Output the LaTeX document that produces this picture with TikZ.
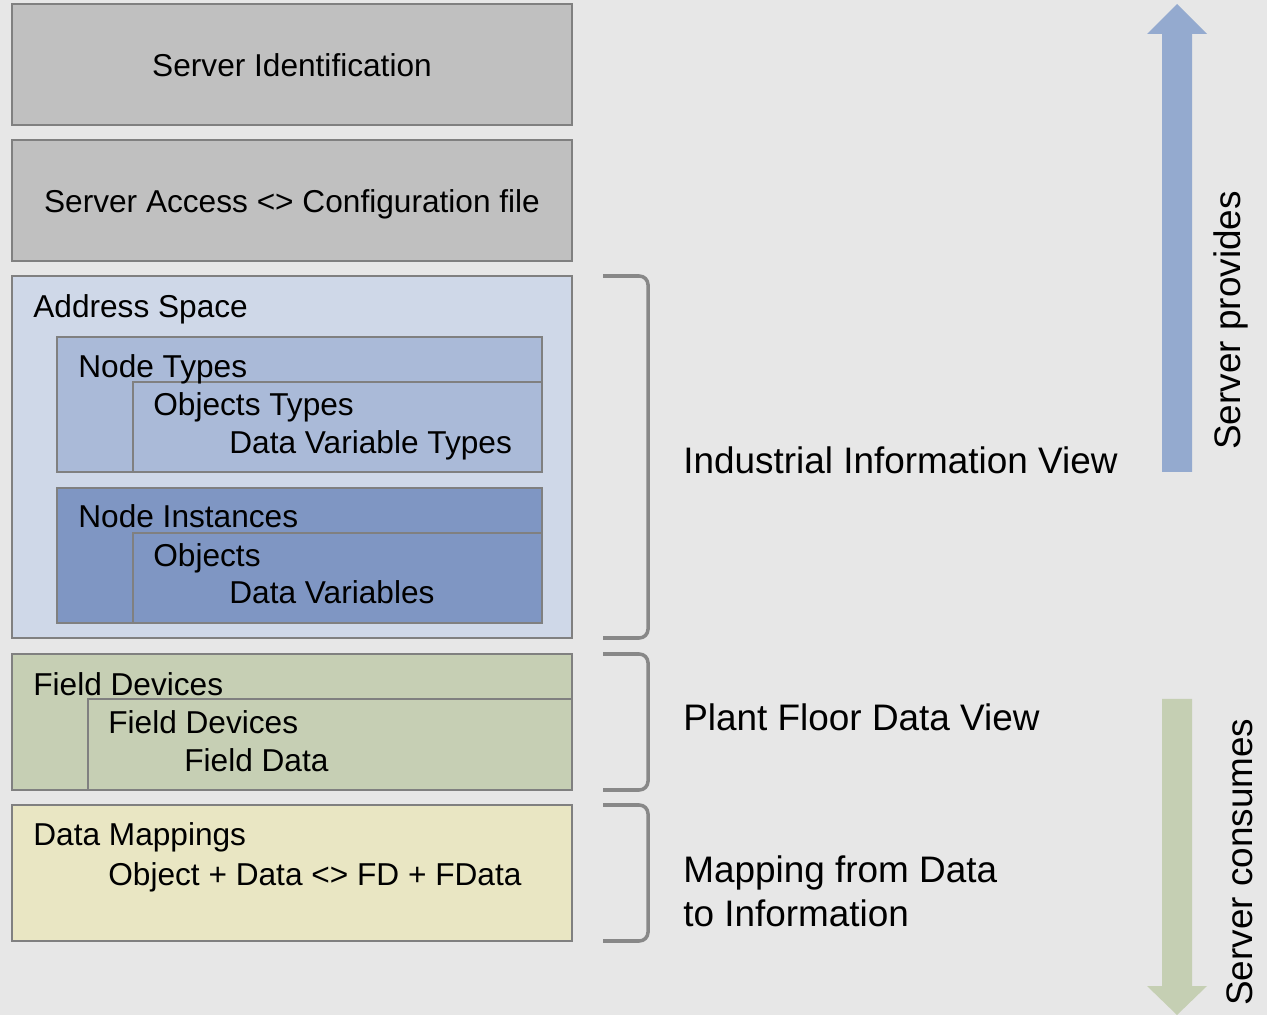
\documentclass[tikz,border=0pt]{standalone}
\usepackage{fontspec}
\setmainfont{Liberation Sans}
\usetikzlibrary{calc}
\definecolor{canvas}{HTML}{E7E7E7}
\definecolor{boxline}{HTML}{808080}
\definecolor{servergray}{HTML}{C0C0C0}
\definecolor{addressfill}{HTML}{CFD8E8}
\definecolor{typesfill}{HTML}{AABAD8}
\definecolor{instancesfill}{HTML}{7F96C3}
\definecolor{fieldfill}{HTML}{C6CFB4}
\definecolor{mappingfill}{HTML}{E9E6C3}
\definecolor{bracketgray}{HTML}{888888}
\definecolor{provideblue}{HTML}{94AACF}
\definecolor{consumegreen}{HTML}{C5CFB3}
\tikzset{
    layer map/.style = {x=0.2mm, y=-0.2mm},
    box/.style       = {draw=boxline, line width=1.1pt, anchor=north west,
                        inner sep=0pt, outer sep=0pt},
    wide/.style      = {box, minimum width=11.2cm},
    boxtext/.style   = {anchor=base west, inner sep=0pt,
                        font=\fontsize{18}{21.6}\selectfont},
    viewtext/.style  = {boxtext, font=\fontsize{21}{25}\selectfont},
    bracket/.style   = {draw=bracketgray, line width=2pt,
                        rounded corners=5pt}
}

\begin{document}
\begin{tikzpicture}[layer map]

\path[use as bounding box, fill=canvas] (0,0) rectangle (1267,1015);

% Server layers at the top.
\node[wide, fill=servergray, minimum height=2.42cm] (ident) at (12,4) {};
\node[wide, fill=servergray, minimum height=2.42cm] (access) at (12,140) {};
\node[boxtext, anchor=base] (ident-text) at (292,77) {Server Identification};
\node[boxtext, anchor=base] (access-text) at (292,213) {Server Access <> Configuration file};

% Address space with nested type and instance boxes.
\node[wide, fill=addressfill, minimum height=7.24cm] (address) at (12,276) {};
\node[box, fill=typesfill, minimum width=9.7cm, minimum height=2.7cm] (types) at (57,337) {};
\node[box, fill=typesfill, minimum width=8.18cm, minimum height=1.8cm] (objtypes) at (133,382) {};
\node[box, fill=instancesfill, minimum width=9.7cm, minimum height=2.7cm] (instances) at (57,488) {};
\node[box, fill=instancesfill, minimum width=8.18cm, minimum height=1.8cm] (objects) at (133,533) {};

% Plant floor and mapping layers.
\node[wide, fill=fieldfill, minimum height=2.72cm] (devices) at (12,654) {};
\node[box, fill=fieldfill, minimum width=9.68cm, minimum height=1.82cm] (subdevices) at (88,699) {};
\node[wide, fill=mappingfill, minimum height=2.72cm] (mappings) at (12,805) {};

\foreach \name/\x/\y/\words in {
    address/33/318/Address Space,
    types/78/378/Node Types,
    objtypes/153/416/Objects Types,
    vartypes/229/454/Data Variable Types,
    instances/78/528/Node Instances,
    objects/153/567/Objects,
    variables/229/604/Data Variables,
    devices/33/695/Field Devices,
    subdevices/108/733/Field Devices,
    fielddata/184/771/Field Data,
    mappings/33/845/Data Mappings,
    mapdata/108/885/Object + Data <> FD + FData} {
    \node[boxtext] (\name-text) at (\x,\y) {\words};
}

% Brackets grouping the layers into views.
\foreach \layer in {address,devices,mappings} {
    \draw[bracket] ($(\layer.north east)+(31,0)$) -| ($(\layer.south east)+(76,0)$)
        -- ($(\layer.south east)+(31,0)$);
}
\node[viewtext] (industrial) at (683,474) {Industrial Information View};
\node[viewtext] (plantfloor) at (683,730) {Plant Floor Data View};
\node[viewtext] (mapview) at (683,882) {Mapping from Data};
\node[viewtext] (mapview-2) at (683,926) {to Information};

% Direction arrows.
\fill[provideblue] (1162,472) -- (1162,34) -- (1147,34) -- (1177,4)
    -- (1207,34) -- (1192,34) -- (1192,472) -- cycle;
\fill[consumegreen] (1162,699) -- (1162,986) -- (1147,986) -- (1177,1015)
    -- (1207,986) -- (1192,986) -- (1192,699) -- cycle;
\node[viewtext, rotate=90] (provides) at (1240,450) {Server provides};
\node[viewtext, rotate=90] (consumes) at (1252,1006) {Server consumes};

\end{tikzpicture}
\end{document}
